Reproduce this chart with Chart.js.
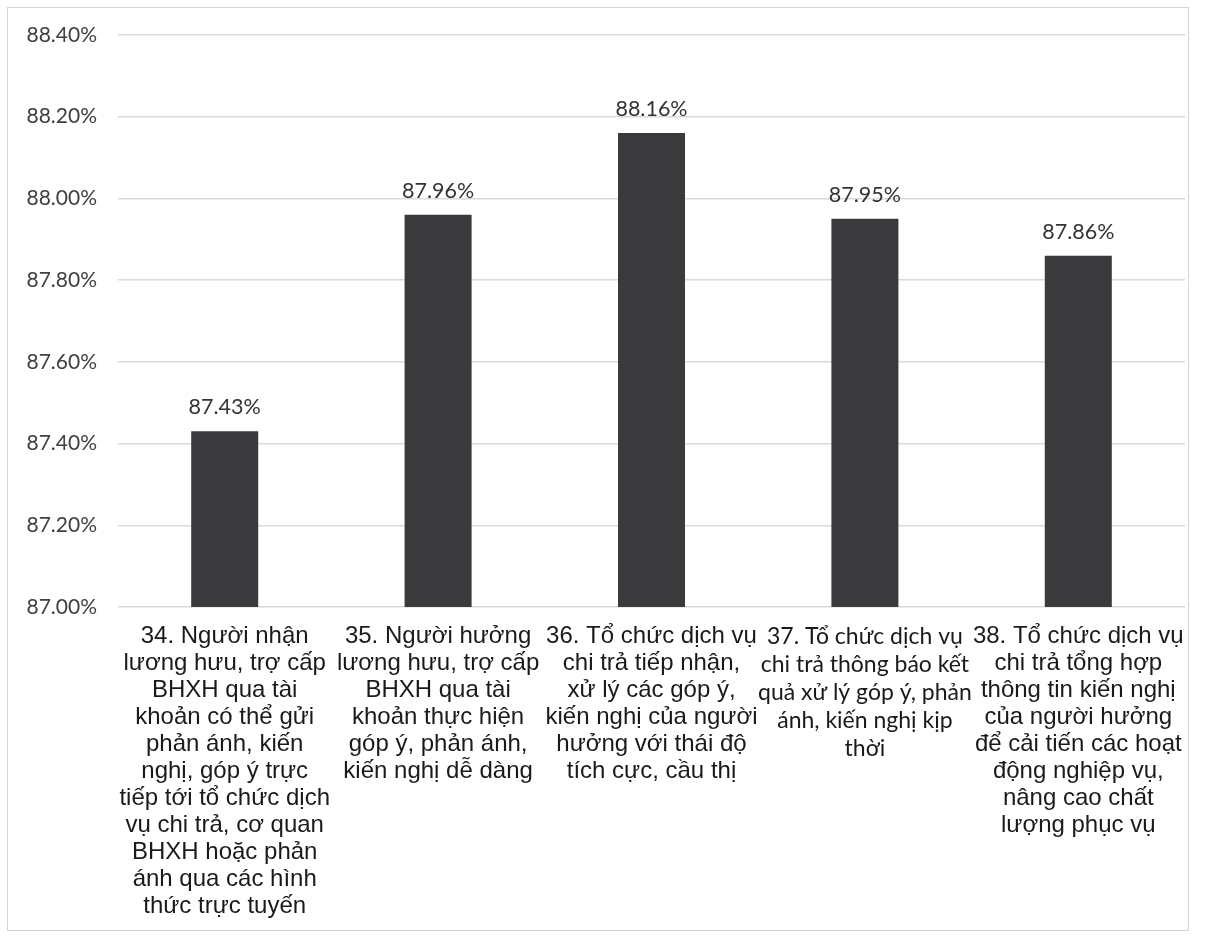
<!DOCTYPE html>
<html>
<head>
<meta charset="utf-8">
<script src="https://cdn.jsdelivr.net/npm/chart.js@4/dist/chart.umd.min.js"></script>
<style>
  html, body { margin: 0; padding: 0; background: #fff; }
  #wrap { position: relative; width: 1213px; height: 940px; }
  #frame { position: absolute; left: 7px; top: 7px; width: 1180px; height: 922px;
           border: 1px solid #d4d4d4; pointer-events: none; }
</style>
</head>
<body>
<div id="wrap">
  <canvas id="chart" width="1213" height="940"></canvas>
  <div id="frame"></div>
</div>
<script>
// categories, each one pre-wrapped into lines
const categories = [
  ["34. Người nhận", "lương hưu, trợ cấp", "BHXH qua tài", "khoản có thể gửi", "phản ánh, kiến",
   "nghị, góp ý trực", "tiếp tới tổ chức dịch", "vụ chi trả, cơ quan", "BHXH hoặc phản",
   "ánh qua các hình", "thức trực tuyến"],
  ["35. Người hưởng", "lương hưu, trợ cấp", "BHXH qua tài", "khoản thực hiện",
   "góp ý, phản ánh,", "kiến nghị dễ dàng"],
  ["36. Tổ chức dịch vụ", "chi trả tiếp nhận,", "xử lý các góp ý,", "kiến nghị của người",
   "hưởng với thái độ", "tích cực, cầu thị"],
  ["37. Tổ chức dịch vụ", "chi trả thông báo kết", "quả xử lý góp ý, phản", "ánh, kiến nghị kịp", "thời"],
  ["38. Tổ chức dịch vụ", "chi trả tổng hợp", "thông tin kiến nghị", "của người hưởng",
   "để cải tiến các hoạt", "động nghiệp vụ,", "nâng cao chất", "lượng phục vụ"]
];
const values = [87.43, 87.96, 88.16, 87.95, 87.86];
const yMin = 87.0, yMax = 88.4, yStep = 0.2;

const barColor = "#3a3a3c";

const valueLabels = {
  id: "valueLabels",
  afterDatasetsDraw(chart) {
    const ctx = chart.ctx;
    const meta = chart.getDatasetMeta(0);
    ctx.save();
    ctx.font = "21.5px Lato";
    ctx.fillStyle = "#333";
    ctx.textAlign = "center";
    ctx.textBaseline = "middle";
    meta.data.forEach((bar, i) => {
      ctx.fillText(values[i].toFixed(2) + "%", bar.x, bar.y - 24);
    });
    ctx.restore();
  }
};

new Chart(document.getElementById("chart"), {
  type: "bar",
  data: {
    labels: categories,
    datasets: [{
      data: values,
      backgroundColor: barColor,
      borderWidth: 0,
      barPercentage: 0.314,
      categoryPercentage: 1.0
    }]
  },
  options: {
    responsive: false,
    animation: false,
    layout: { padding: { left: 0, right: 28, top: 35, bottom: 10 } },
    plugins: { legend: { display: false }, tooltip: { enabled: false } },
    scales: {
      y: {
        min: yMin,
        max: yMax,
        afterFit: (scale) => { scale.width = 118; },
        border: { display: false },
        grid: { color: "#d9d9d9", lineWidth: 1.5, drawTicks: false },
        ticks: {
          stepSize: yStep,
          padding: 21,
          color: "#404040",
          font: { family: "Lato", size: 21 },
          callback: (v) => v.toFixed(2) + "%"
        }
      },
      x: {
        afterFit: (scale) => { scale.height = 323; },
        border: { display: false },
        grid: { display: false, drawTicks: false },
        ticks: {
          autoSkip: false,
          maxRotation: 0,
          minRotation: 0,
          padding: 16,
          color: "#1a1a1a",
          font: (ctx) => ctx.index === 3
            ? { family: "Lato", size: 23, lineHeight: 28 / 23 }
            : { family: "Liberation Sans", size: 24, lineHeight: 27 / 24 }
        }
      }
    }
  },
  plugins: [valueLabels]
});
</script>
</body>
</html>
